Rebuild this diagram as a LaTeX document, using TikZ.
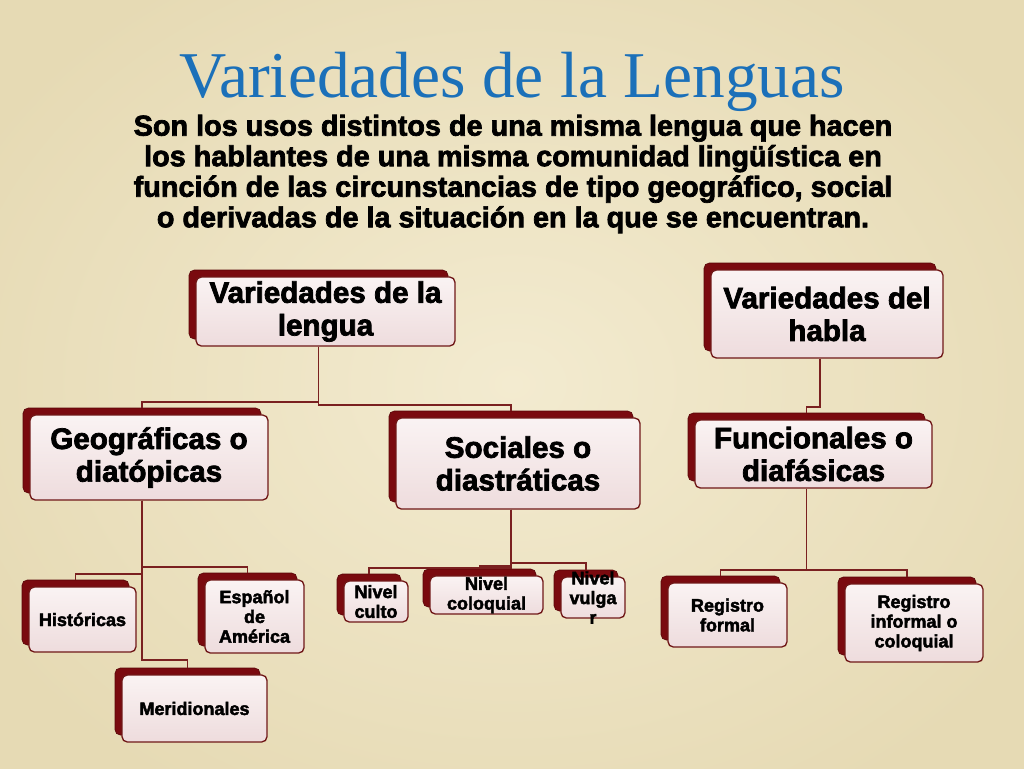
\documentclass[tikz,border=0pt]{standalone}
\usepackage{fontspec}
\setmainfont{Liberation Sans}
\newfontfamily\titlefont{Liberation Serif}
\newfontfamily\hvy{Liberation Sans Bold}[FakeBold=2.5]
\definecolor{bgA}{HTML}{F3EBD0}
\definecolor{bgB}{HTML}{E6DAB4}
\definecolor{ttl}{HTML}{1B70B9}
\definecolor{shd}{HTML}{7A0A0F}
\definecolor{shdD}{HTML}{5A0508}
\definecolor{brd}{HTML}{701818}
\definecolor{ftop}{HTML}{FAF3F3}
\definecolor{fbot}{HTML}{EEDCDD}
\definecolor{lnk}{HTML}{7A2020}
\newcommand\bx[7]{%
 \pgfmathsetmacro\cx{(#2+#4)/2}\pgfmathsetmacro\cy{(#3+#5)/2}%
 \pgfmathsetmacro\ww{(#4-#2)*0.75}\pgfmathsetmacro\hh{(#5-#3)*0.75}%
 \node[backbox, minimum width=\ww pt, minimum height=\hh pt] (s#1) at (\cx-7,\cy-7) {};
 \node[frontbox,#6, minimum width=\ww pt, minimum height=\hh pt] (f#1) at (\cx,\cy) {#7};
}
\newcommand\lk[3]{%
 \coordinate (y#1#2) at (0,#3);
 \draw[link] (s#1.south |- f#1.south) |- (y#1#2 -| s#2.north) -- (s#2.north);
}
\begin{document}
\begin{tikzpicture}[x=0.75pt,y=-0.75pt,
  backbox/.style={draw=shdD, line width=0.5pt, fill=shd, rounded corners=4pt, inner sep=0pt},
  frontbox/.style={draw=brd, line width=1pt, top color=ftop, bottom color=fbot, rounded corners=4pt, inner sep=0.5pt, align=center, text=black},
  bigtext/.style={font=\hvy\fontsize{22.2}{24.5}\selectfont},
  smalltext/.style={font=\hvy\fontsize{13.5}{14.8}\selectfont},
  link/.style={draw=lnk, line width=1pt},
]
\useasboundingbox (0,0) rectangle (1024,768);
\shade[inner color=bgA, outer color=bgB] (-100,-100) rectangle (1124,868);

\node[font=\titlefont\fontsize{49}{50}\selectfont, text=ttl, anchor=base] (title) at (512,97) {Variedades de la Lenguas};
\node[font=\hvy\fontsize{21.6}{22.9}\selectfont, align=center] (sub) at (513,174) {Son los usos distintos de una misma lengua que hacen\\los hablantes de una misma comunidad lingüística en\\función de las circunstancias de tipo geográfico, social\\o derivadas de la situación en la que se encuentran.};

\bx{L}{196}{277}{455}{346}{bigtext}{Variedades de la\\lengua}
\bx{R}{711}{270}{943}{358}{bigtext}{Variedades del\\habla}
\bx{Geo}{30}{415}{268}{500}{bigtext}{Geográficas o\\diatópicas}
\bx{Soc}{396}{418}{640}{509}{bigtext}{Sociales o\\diastráticas}
\bx{Fun}{695}{420}{932}{488}{bigtext}{Funcionales o\\diafásicas}
\bx{His}{29}{587}{136}{652}{smalltext}{Históricas}
\bx{Esp}{205}{580}{304}{653}{smalltext}{Español\\de\\América}
\bx{Mer}{122}{675}{267}{742}{smalltext}{Meridionales}
\bx{Cul}{344}{581}{408}{622}{smalltext}{Nivel\\culto}
\bx{Col}{430}{576}{543}{614}{smalltext}{Nivel\\coloquial}
\bx{Vul}{561}{577}{625}{618}{smalltext}{}
\node[smalltext, align=center, inner sep=0pt] (tVul) at (fVul.center) {Nivel\\vulga\\r};
\bx{RF}{668}{583}{787}{647}{smalltext}{Registro\\formal}
\bx{RI}{845}{584}{983}{662}{smalltext}{Registro\\informal o\\coloquial}

\lk{L}{Geo}{402}
\lk{L}{Soc}{405}
\lk{R}{Fun}{407}
\lk{Geo}{His}{574}
\lk{Geo}{Esp}{567}
\lk{Geo}{Mer}{660}
\lk{Soc}{Cul}{568}
\lk{Soc}{Col}{566}
\lk{Soc}{Vul}{563}
\lk{Fun}{RF}{570}
\lk{Fun}{RI}{570}
\end{tikzpicture}
\end{document}
